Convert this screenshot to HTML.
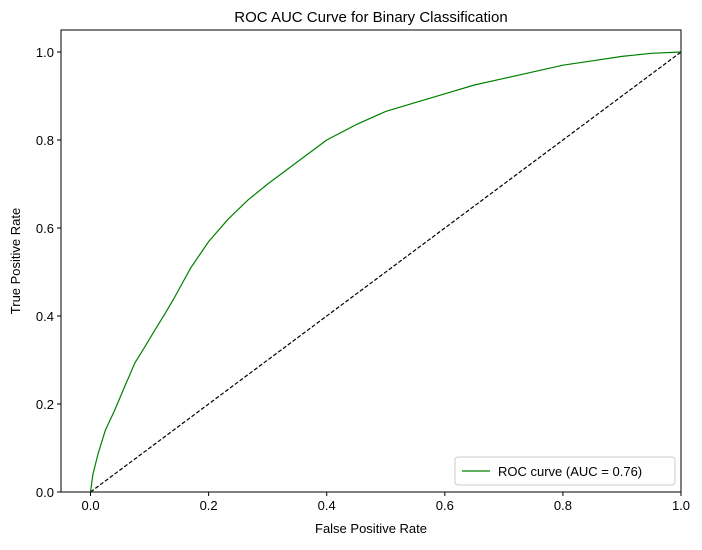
<!DOCTYPE html>
<html><head><meta charset="utf-8"><style>
body{margin:0;background:#fff;}
svg text{font-family:"Liberation Sans",sans-serif;fill:#000;}
</style></head><body>
<svg id="chart" width="702" height="545">
<text x="371" y="22" font-size="15" text-anchor="middle">ROC AUC Curve for Binary Classification</text>
<g id="plot"></g>
<text x="371" y="533" font-size="13" text-anchor="middle">False Positive Rate</text>
<text x="20" y="261" font-size="13" text-anchor="middle" transform="rotate(-90 20 261)">True Positive Rate</text>
</svg>
<script>
const fpr=[0,0.004,0.013,0.025,0.041,0.058,0.075,0.092,0.109,0.126,0.143,0.17,0.2,0.233,0.267,0.3,0.35,0.4,0.45,0.5,0.55,0.6,0.65,0.7,0.75,0.8,0.85,0.9,0.95,1.0];
const tpr=[0,0.04,0.088,0.14,0.186,0.24,0.293,0.33,0.368,0.405,0.444,0.51,0.569,0.62,0.664,0.70,0.75,0.80,0.835,0.865,0.885,0.905,0.925,0.94,0.955,0.97,0.98,0.99,0.997,1.0];
const xTicks=[0,0.2,0.4,0.6,0.8,1.0];
const yTicks=[0,0.2,0.4,0.6,0.8,1.0];
const L=61,R=681,T=30,B=492;
const xs=v=>L+(v+0.05)/1.05*(R-L);
const ys=v=>B-v/1.05*(B-T);
const NS='http://www.w3.org/2000/svg';
const g=document.getElementById('plot');
function mk(t,a){const e=document.createElementNS(NS,t);for(const k in a)e.setAttribute(k,a[k]);g.appendChild(e);return e;}
let d=mk('line',{x1:xs(0),y1:ys(0),x2:xs(1),y2:ys(1),stroke:'#000','stroke-width':1.2,'stroke-dasharray':'4,2'});


let p=mk('polyline',{points:fpr.map((v,i)=>xs(v)+','+ys(tpr[i])).join(' '),fill:'none',stroke:'#008000','stroke-width':1.2,'stroke-linejoin':'round'});


let fr=mk('rect',{x:L,y:T,width:R-L,height:B-T,fill:'none',stroke:'#000','stroke-width':1});


xTicks.forEach(v=>{
 let l=mk('line',{x1:xs(v),y1:B,x2:xs(v),y2:B+4,stroke:'#000'});
 
 
 let t=mk('text',{x:xs(v),y:B+18,'font-size':13,'text-anchor':'middle'});t.textContent=v.toFixed(1);
 
 
});
yTicks.forEach(v=>{
 let l=mk('line',{x1:L-4,y1:ys(v),x2:L,y2:ys(v),stroke:'#000'});
 
 
 let t=mk('text',{x:L-7,y:ys(v)+5,'font-size':13,'text-anchor':'end'});t.textContent=v.toFixed(1);
 
 
});
let lg=mk('rect',{x:455,y:457,width:220,height:28,rx:3,fill:'#fff',stroke:'#ccc'});


let ll=mk('line',{x1:462,y1:471,x2:490,y2:471,stroke:'#008000','stroke-width':1.2});


let lt=mk('text',{x:498,y:476,'font-size':13});lt.textContent='ROC curve (AUC = 0.76)';


</script>
</body></html>
